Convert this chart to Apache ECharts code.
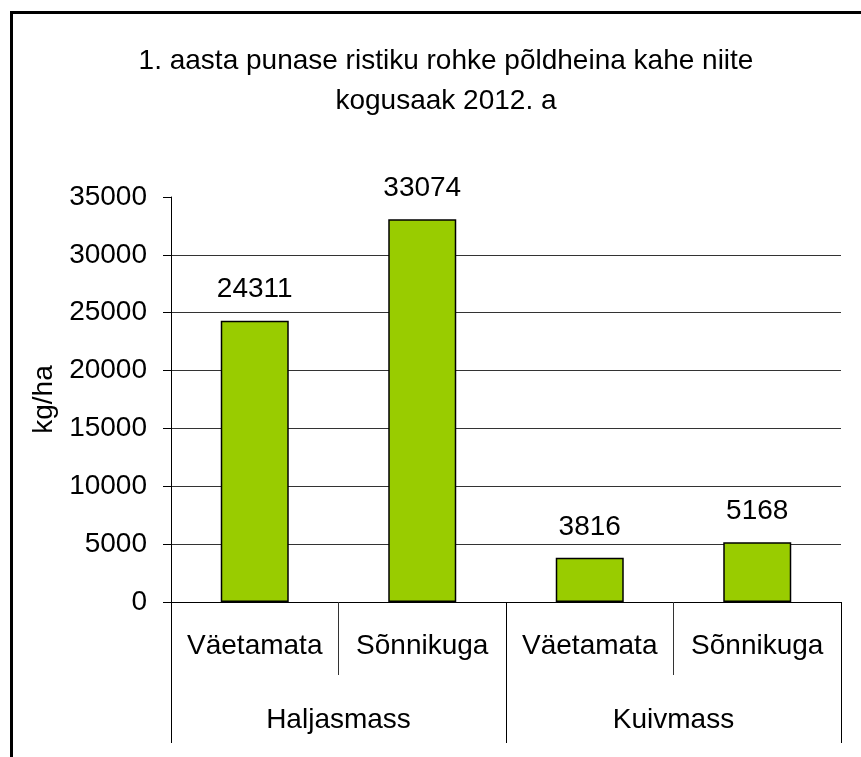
<!DOCTYPE html>
<html lang="et">
  <head>
    <meta charset="UTF-8" />
    <script src="https://cdn.jsdelivr.net/npm/echarts@6/dist/echarts.min.js"></script>
    <style>
      html,
      body {
        margin: 0;
        overflow: hidden;
        background: #fff;
      }
      #viewport {
        position: absolute;
        left: 0;
        top: 0;
        width: 861px;
        height: 757px;
      }
    </style>
  </head>
  <body>
    <div id="viewport"></div>
    <script>
      var titleText = '1. aasta punase ristiku rohke põldheina kahe niite\nkogusaak 2012. a';
      var treatments = ['Väetamata', 'Sõnnikuga', 'Väetamata', 'Sõnnikuga'];
      var groups = ['Haljasmass', 'Kuivmass'];
      var yields = [24311, 33074, 3816, 5168];
      var yName = 'kg/ha';

      var font = 'Liberation Sans, Arial, sans-serif';
      var myChart = echarts.init(document.getElementById('viewport'));

      var option = {
        animation: false,
        backgroundColor: '#fff',
        textStyle: { fontFamily: font },
        graphic: [
          {
            // frame around the chart; right and bottom edges fall off the page
            type: 'rect',
            left: 9,
            top: 10,
            shape: { width: 900, height: 800 },
            style: { fill: 'none', stroke: '#000', lineWidth: 3 }
          }
        ],
        title: {
          text: titleText,
          left: 441,
          textAlign: 'center',
          top: 36,
          textStyle: {
            fontFamily: font,
            fontSize: 28,
            fontWeight: 'normal',
            color: '#000',
            lineHeight: 40
          }
        },
        grid: {
          left: 171,
          right: 20,
          top: 197,
          bottom: 155
        },
        xAxis: [
          {
            type: 'category',
            data: treatments,
            position: 'bottom',
            axisLine: { show: true, lineStyle: { color: '#000', width: 1 } },
            axisTick: {
              show: true,
              interval: 0,
              length: 73,
              lineStyle: { color: '#333', width: 1 }
            },
            axisLabel: {
              interval: 0,
              margin: 30,
              color: '#000',
              fontSize: 28,
              fontFamily: font
            }
          },
          {
            type: 'category',
            data: groups,
            position: 'bottom',
            axisLine: { show: false },
            axisTick: {
              show: true,
              interval: 0,
              length: 141,
              lineStyle: { color: '#000', width: 1 }
            },
            axisLabel: {
              interval: 0,
              margin: 104,
              color: '#000',
              fontSize: 28,
              fontFamily: font
            }
          }
        ],
        yAxis: {
          type: 'value',
          min: 0,
          max: 35000,
          interval: 5000,
          name: yName,
          nameLocation: 'middle',
          nameGap: 112,
          nameTextStyle: { color: '#000', fontSize: 28, fontFamily: font },
          axisLine: { show: true, lineStyle: { color: '#000', width: 1 } },
          axisTick: {
            show: true,
            inside: false,
            length: 8,
            lineStyle: { color: '#000' }
          },
          axisLabel: {
            margin: 24,
            color: '#000',
            fontSize: 28,
            fontFamily: font,
            formatter: function (v) {
              return String(v);
            }
          },
          splitLine: {
            show: true,
            showMaxLine: false,
            lineStyle: { color: '#333', width: 1 }
          }
        },
        series: [
          {
            type: 'bar',
            xAxisIndex: 0,
            data: yields,
            barWidth: 68,
            itemStyle: {
              color: '#99cc00',
              borderColor: '#000',
              borderWidth: 1.5
            },
            label: {
              show: true,
              position: 'top',
              distance: 17,
              color: '#000',
              fontSize: 28,
              fontFamily: font
            }
          }
        ]
      };

      myChart.setOption(option);
    </script>
  </body>
</html>
